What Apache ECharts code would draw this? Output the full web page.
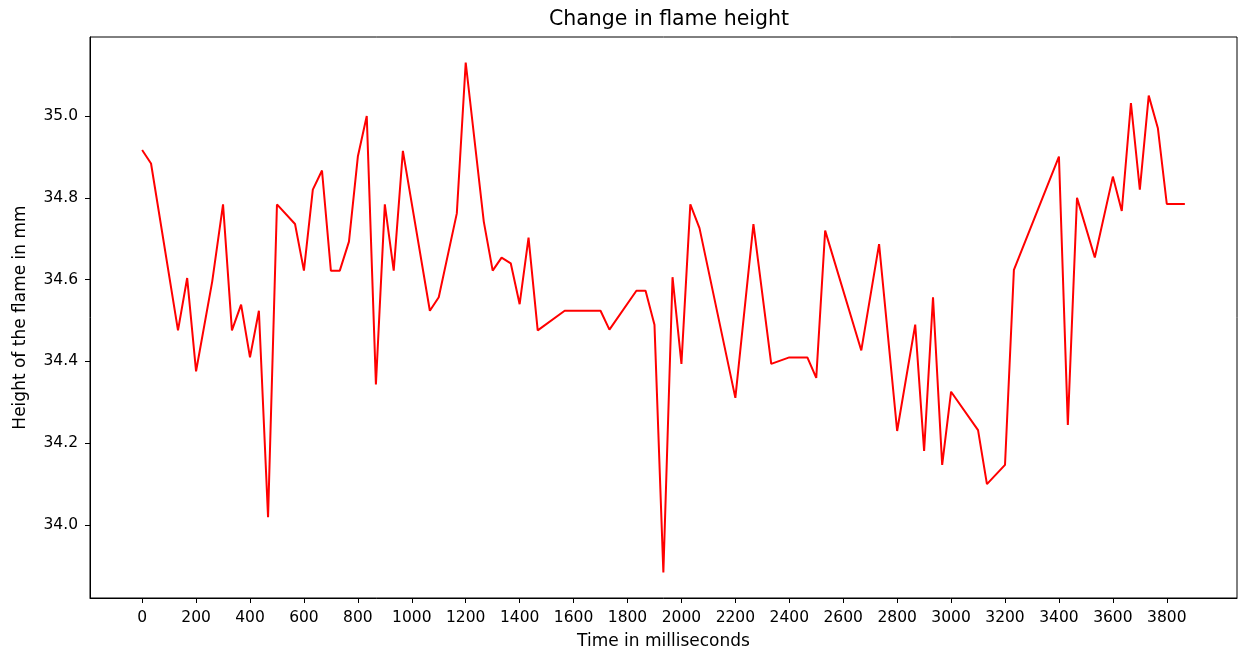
<!DOCTYPE html>
<html>
<head>
<meta charset="utf-8">
<script src="https://cdn.jsdelivr.net/npm/echarts@6/dist/echarts.min.js"></script>
<style>
html,body{margin:0;padding:0;background:#fff;}
#chart{width:1239px;height:651px;}
</style>
</head>
<body>
<div id="chart"></div>
<script>
// Time in milliseconds
const times = [0,33,133,167,200,260,300,333,367,400,433,467,500,567,600,633,667,700,733,767,800,833,867,900,933,967,1067,1100,1167,1200,1267,1300,1333,1367,1400,1433,1467,1567,1700,1733,1833,1867,1900,1933,1967,2000,2033,2067,2200,2267,2333,2400,2467,2500,2533,2667,2733,2800,2867,2900,2933,2967,3000,3100,3133,3200,3233,3400,3433,3467,3533,3600,3633,3667,3700,3733,3767,3800,3867];
// Height of the flame in mm
const heights = [34.917,34.884,34.476,34.604,34.376,34.596,34.784,34.476,34.539,34.41,34.524,34.019,34.784,34.736,34.622,34.82,34.867,34.622,34.622,34.693,34.901,35.0,34.344,34.784,34.622,34.915,34.524,34.557,34.762,35.131,34.742,34.622,34.654,34.64,34.54,34.703,34.476,34.524,34.524,34.478,34.573,34.573,34.49,33.884,34.606,34.394,34.784,34.726,34.311,34.736,34.394,34.41,34.41,34.36,34.72,34.427,34.687,34.23,34.49,34.181,34.557,34.147,34.326,34.232,34.1,34.147,34.624,34.901,34.245,34.8,34.654,34.852,34.768,35.032,34.82,35.05,34.97,34.785,34.785];
const xTicks = [0,200,400,600,800,1000,1200,1400,1600,1800,2000,2200,2400,2600,2800,3000,3200,3400,3600,3800];
const yTicks = [34.0,34.2,34.4,34.6,34.8,35.0];

const tMin = Math.min(...times), tMax = Math.max(...times);
const hMin = Math.min(...heights), hMax = Math.max(...heights);
const xPad = (tMax - tMin) * 0.05, yPad = (hMax - hMin) * 0.05;

const chart = echarts.init(document.getElementById('chart'), null, {renderer:'canvas'});
const font = 'DejaVu Sans';
chart.setOption({
  animation: false,
  backgroundColor: '#fff',
  title: {
    text: 'Change in flame height',
    left: 664, top: 4, textAlign: 'center',
    textStyle: {fontFamily: font, fontSize: 20.5, fontWeight: 'normal', color: '#000'}
  },
  grid: {left: 90, right: 2, top: 37, bottom: 53, show: true, borderColor: '#000', borderWidth: 1,
    backgroundColor: 'transparent', containLabel: false, outerBoundsMode: 'none'},
  xAxis: {
    type: 'value',
    min: tMin - xPad, max: tMax + xPad,
    name: 'Time in milliseconds', nameLocation: 'middle', nameGap: 35,
    nameTextStyle: {fontFamily: font, fontSize: 17, color: '#000'},
    axisLine: {show: true, onZero: false, lineStyle: {color: '#000', width: 1}},
    axisTick: {show: true, length: 5, customValues: xTicks, lineStyle: {color: '#000', width: 1}},
    axisLabel: {customValues: xTicks, fontFamily: font, fontSize: 15.5, color: '#000', margin: 12,
      formatter: v => String(Math.round(v))},
    splitLine: {show: false}
  },
  yAxis: {
    type: 'value',
    min: hMin - yPad, max: hMax + yPad,
    name: 'Height of the flame in mm', nameLocation: 'middle', nameGap: 61,
    nameTextStyle: {fontFamily: font, fontSize: 17, color: '#000'},
    axisLine: {show: true, onZero: false, lineStyle: {color: '#000', width: 1}},
    axisTick: {show: true, length: 5, customValues: yTicks, lineStyle: {color: '#000', width: 1}},
    axisLabel: {customValues: yTicks, fontFamily: font, fontSize: 15.5, color: '#000', margin: 12,
      formatter: v => Number(v).toFixed(1)},
    splitLine: {show: false}
  },
  series: [{
    type: 'line',
    data: times.map((t, i) => [t, heights[i]]),
    showSymbol: false,
    lineStyle: {color: '#ff0000', width: 2},
    z: 3
  }]
});
</script>
</body>
</html>
